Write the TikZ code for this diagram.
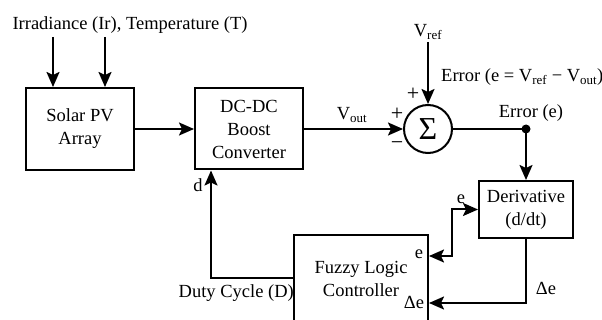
\documentclass[tikz,border=0pt]{standalone}
\usepackage{fontspec}
\setmainfont{Liberation Serif}
\usetikzlibrary{arrows.meta}
\begin{document}
\begin{tikzpicture}[x=1pt,y=-1pt,
  every node/.style={font=\fontsize{18.5}{23}\selectfont, inner sep=0pt},
  blk/.style={draw, line width=2pt, align=center},
  wire/.style={line width=2pt},
  tip/.tip={Stealth[length=15pt,width=13pt,inset=3pt]},
  arr/.style={wire, -tip},
  arrboth/.style={wire, tip-tip},
  lbl/.style={},
  sgn/.style={font=\fontsize{22}{22}\selectfont}]
\useasboundingbox (0,0) rectangle (602,320);
\clip (0,0) rectangle (602,320);

\node[lbl] (envtxt) at (130,25) {Irradiance (Ir), Temperature (T)};
\node[blk, minimum width=108pt, minimum height=82pt] (solar) at (80,129) {Solar PV\\Array};
\node[blk, minimum width=108pt, minimum height=81pt] (dcdc) at (249,129) {DC-DC\\Boost\\Converter};
\node[draw, circle, line width=2pt, minimum size=48pt, inner sep=0pt] (sum) at (428,129) {\fontsize{32}{32}\selectfont Σ};
\node[blk, minimum width=94pt, minimum height=57pt] (deriv) at (526,209.5) {Derivative\\(d/dt)};
\node[blk, minimum width=134pt, minimum height=88pt] (fuzzy) at (361,279) {Fuzzy Logic\\Controller};

\coordinate (in1) at (53,37);
\coordinate (in2) at (105,37);
\draw[arr] (in1) -- (in1 |- solar.north);
\draw[arr] (in2) -- (in2 |- solar.north);
\draw[arr] (solar.east) -- (dcdc.west);
\draw[arr] (dcdc.east) -- (sum.west);

\node[lbl] (vref) at (428,32) {V\textsubscript{ref}};
\draw[arr] (vref.south) ++(0,2) -- (sum.north);
\node[lbl, anchor=west] (errfull) at (441,77) {Error (e = V\textsubscript{ref} − V\textsubscript{out})};
\node[lbl] (vout) at (352,115) {V\textsubscript{out}};
\node[sgn] (p1) at (413,94) {+};
\node[sgn] (p2) at (397,114) {+};
\node[sgn] (m1) at (397,146) {−};

\coordinate (dot) at (526,129);
\draw[wire] (sum.east) -- (dot);
\fill (dot) circle (4.5pt);
\node[lbl] (errlbl) at (531,113) {Error (e)};
\draw[arr] (dot) -- (deriv.north);

\coordinate (ej) at (452,209.5);
\coordinate (fe) at (fuzzy.east |- 0,256);
\draw[arrboth] (fe) -| (ej) -- (deriv.west);
\node[lbl] (elbl) at (461,199) {e};
\node[lbl] (ein) at (419,254) {e};

\coordinate (fde) at (fuzzy.east |- 0,303);
\draw[arr] (deriv.south) |- (fde);
\node[lbl] (delbl) at (546,288) {Δe};
\node[lbl] (dein) at (414,302) {Δe};

\coordinate (dutyc) at (211,278);
\draw[arr] (fuzzy.west |- dutyc) -- (dutyc) -- (dutyc |- dcdc.south);
\node[lbl] (dlbl) at (198,185) {d};
\node[lbl, anchor=east] (dutylbl) at (294,293) {Duty Cycle (D)};
\end{tikzpicture}
\end{document}
